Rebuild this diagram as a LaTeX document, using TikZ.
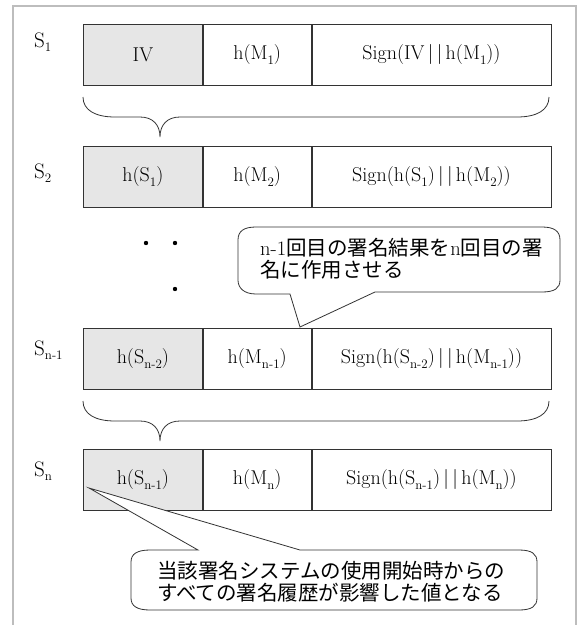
\documentclass[tikz,border=0pt]{standalone}
\usepackage{fontspec}
\newfontfamily\jpfont{Noto Sans CJK JP}
\definecolor{framegray}{HTML}{BDBDBD}
\definecolor{cellgray}{HTML}{E6E6E6}
\definecolor{ink}{HTML}{333333}
\newcommand\sbx[1]{\raisebox{-0.55ex}{\fontsize{13}{13}\selectfont #1}}
\begin{document}
\begin{tikzpicture}[x=1pt,y=-1pt,
  cell/.style={draw=ink, line width=0.8pt, inner sep=0pt, minimum height=61pt,
    anchor=north west, font=\fontsize{20}{22}\selectfont},
  cellg/.style={cell, fill=cellgray},
  wa/.style={minimum width=119pt},
  wb/.style={minimum width=108pt},
  wc/.style={minimum width=239pt},
  lbl/.style={font=\fontsize{21}{22}\selectfont, anchor=base west, inner sep=0pt},
  bracepath/.style={draw=ink, line width=0.8pt},
  bubble/.style={draw=ink, line width=0.8pt, fill=white, line join=miter},
  btext/.style={font=\jpfont\fontsize{20.5}{22}\selectfont, align=left, anchor=west, inner sep=0pt},
  dotmark/.style={fill=black}]
\useasboundingbox (0,0) rectangle (578,625);
\fill[white] (0,0) rectangle (578,625);
\draw[framegray, line width=1.5pt] (13,625) -- (13,6) -- (576,6) -- (576,625);

% row S1
\node[lbl] (s1) at (34,47) {S\sbx{1}};
\node[cellg,wa] (a1) at (83,24) {IV};
\node[cell,wb] (b1) at (a1.north east) {h(M\sbx{1})};
\node[cell,wc] (c1) at (b1.north east) {Sign(IV\,|\,|\,h(M\sbx{1}))};

% row S2
\node[lbl] (s2) at (34,178) {S\sbx{2}};
\node[cellg,wa] (a2) at (83,146) {h(S\sbx{1})};
\node[cell,wb] (b2) at (a2.north east) {h(M\sbx{2})};
\node[cell,wc] (c2) at (b2.north east) {Sign(h(S\sbx{1})\,|\,|\,h(M\sbx{2}))};

% row Sn-1
\node[lbl] (s3) at (34,355) {S\sbx{n-1}};
\node[cellg,wa] (a3) at (83,328) {h(S\sbx{n-2})};
\node[cell,wb] (b3) at (a3.north east) {h(M\sbx{n-1})};
\node[cell,wc] (c3) at (b3.north east) {Sign(h(S\sbx{n-2})\,|\,|\,h(M\sbx{n-1}))};

% row Sn
\node[lbl] (s4) at (34,476) {S\sbx{n}};
\node[cellg,wa] (a4) at (83,449) {h(S\sbx{n-1})};
\node[cell,wb] (b4) at (a4.north east) {h(M\sbx{n})};
\node[cell,wc] (c4) at (b4.north east) {Sign(h(S\sbx{n-1})\,|\,|\,h(M\sbx{n}))};

% braces
\draw[bracepath] (83,97) .. controls (83,110) and (95,117) .. (115,117) -- (140,117)
  .. controls (153,117) and (160,125) .. (160,137)
  .. controls (160,125) and (167,117) .. (180,117) -- (517,117)
  .. controls (537,117) and (549,110) .. (549,97);
\draw[bracepath] (83,401) .. controls (83,414) and (95,421) .. (115,421) -- (140,421)
  .. controls (153,421) and (160,429) .. (160,441)
  .. controls (160,429) and (167,421) .. (180,421) -- (517,421)
  .. controls (537,421) and (549,414) .. (549,401);

% dots
\fill[dotmark] (146,243) circle (2.2pt);
\fill[dotmark] (175,243) circle (2.2pt);
\fill[dotmark] (175,289) circle (2.2pt);

% callout 1
\coordinate (tip1) at (300,327);
\draw[bubble] (290,294) -- (tip1) -- (375,292) -- (542,292)
  .. controls (555,292) and (560,288) .. (560,280) -- (560,240)
  .. controls (560,231) and (554,227) .. (542,227) -- (256,227)
  .. controls (244,227) and (238,231) .. (238,240) -- (238,280)
  .. controls (238,288) and (244,294) .. (256,294) -- cycle;
\node[btext] (t1) at (260,259) {{\rmfamily n-1}回目の署名結果を{\rmfamily n}回目の署\\名に作用させる};

% callout 2
\coordinate (tip2) at (89,488);
\draw[bubble] (198,550) -- (tip2) -- (300,550) -- (519,550)
  .. controls (532,550) and (537,554) .. (537,562) -- (537,598)
  .. controls (537,606) and (532,610) .. (519,610) -- (150,610)
  .. controls (137,610) and (131,606) .. (131,598) -- (131,562)
  .. controls (131,554) and (137,550) .. (150,550) -- cycle;
\node[btext] (t2) at (157,582) {当該署名システムの使用開始時からの\\すべての署名履歴が影響した値となる};
\end{tikzpicture}
\end{document}
